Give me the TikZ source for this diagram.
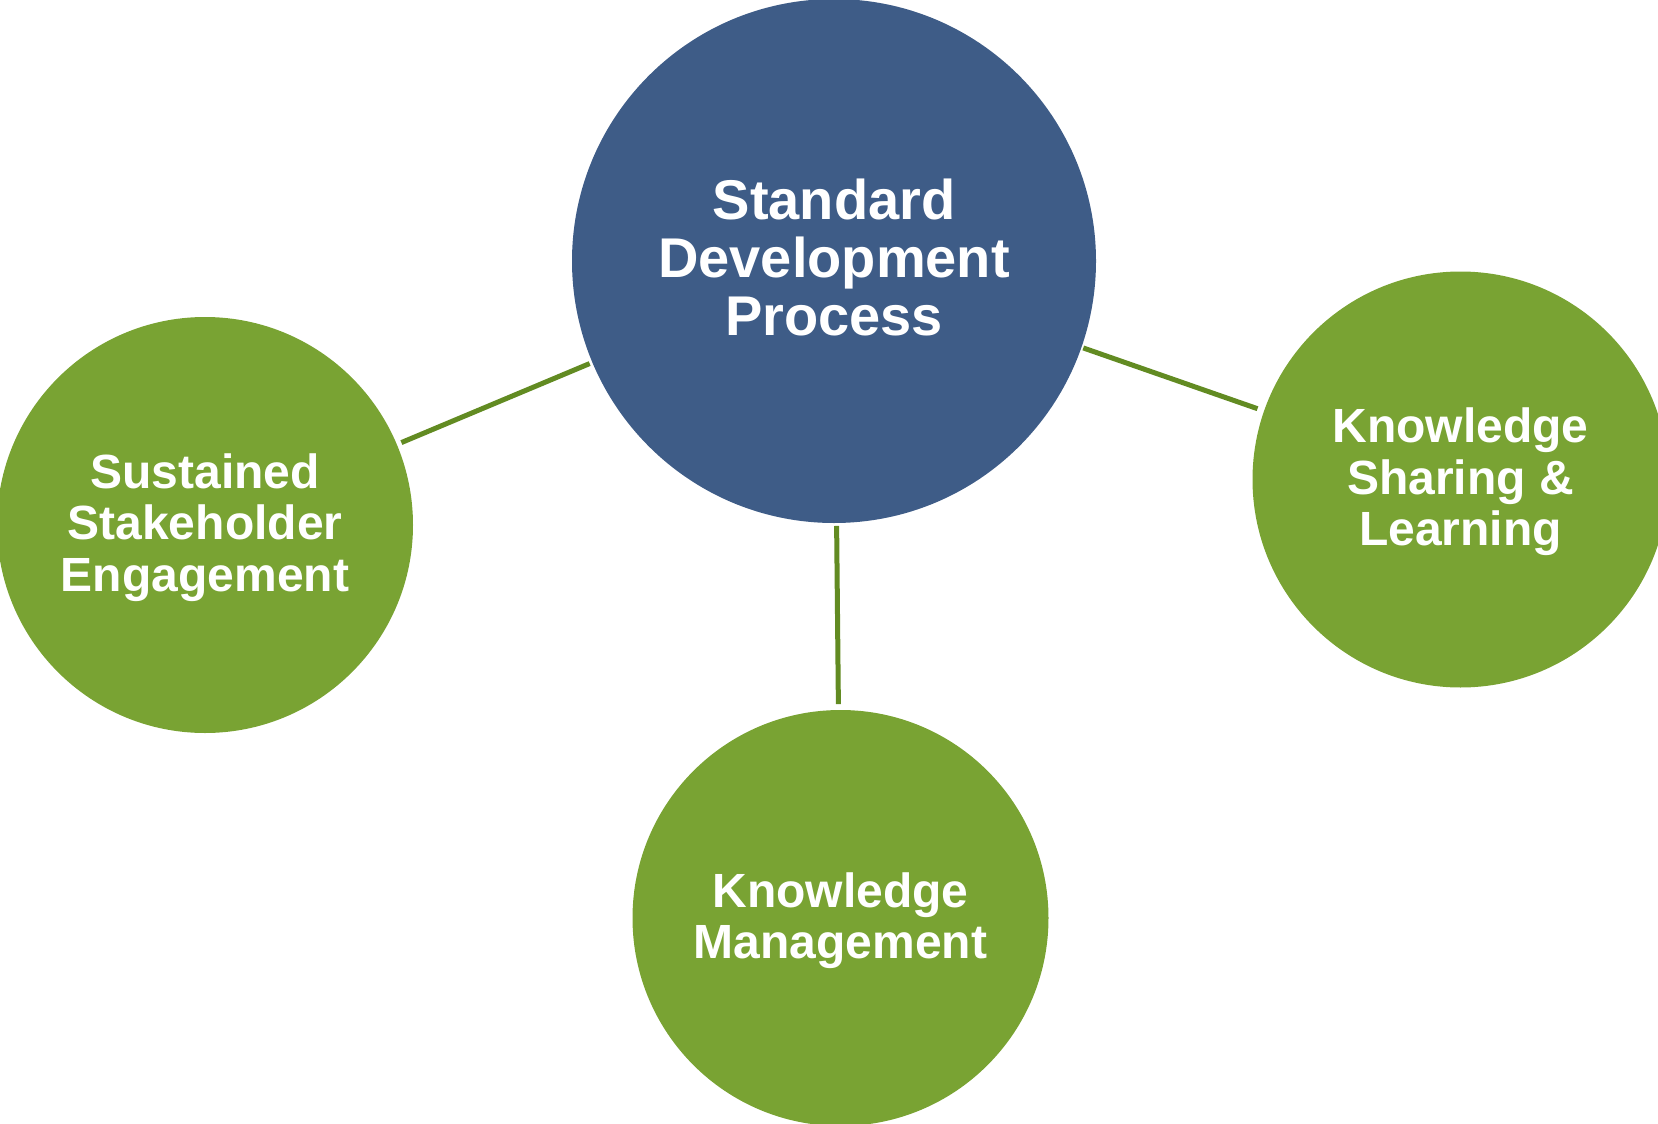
\documentclass[tikz,border=0pt]{standalone}
\usepackage{fontspec}
\setmainfont{Liberation Sans}
\definecolor{sdblue}{HTML}{3E5C87}
\definecolor{kgreen}{HTML}{79A333}
\definecolor{lgreen}{HTML}{628B22}
\begin{document}
\begin{tikzpicture}[x=1pt,y=-1pt,
  bluecirc/.style={circle,fill=sdblue,draw=none,minimum size=524pt,inner sep=0pt,outer sep=0pt},
  greencirc/.style={circle,fill=kgreen,draw=none,minimum size=416pt,inner sep=0pt,outer sep=0pt},
  bluetext/.style={text=white,align=center,font=\bfseries\fontsize{56}{58}\selectfont,inner sep=0pt},
  greentext/.style={text=white,align=center,font=\bfseries\fontsize{48}{51.5}\selectfont,inner sep=0pt},
  link/.style={draw=lgreen,line width=5pt}]
\useasboundingbox (0,0) rectangle (1658,1124);
\node[bluecirc] (sdp) at (834,261) {};
\node[greencirc] (sse) at (205,525) {};
\node[greencirc] (ksl) at (1460.5,479.5) {};
\node[greencirc] (km) at (840.5,918) {};
\node[bluetext,yshift=4pt] (tsdp) at (sdp.center) {Standard\\Development\\Process};
\node[greentext,yshift=-2.5pt] (tsse) at (sse.center) {Sustained\\Stakeholder\\Engagement};
\node[greentext,yshift=-2.5pt] (tksl) at (ksl.center) {Knowledge\\Sharing \&\\Learning};
\node[greentext,yshift=-2.5pt] (tkm) at (km.center) {Knowledge\\Management};
\draw[link,shorten <=3pt,shorten >=5pt] (sdp) -- (sse);
\draw[link,shorten <=2pt,shorten >=7pt] (sdp) -- (ksl);
\draw[link,shorten <=3pt,shorten >=6pt] (sdp) -- (km);
\end{tikzpicture}
\end{document}
